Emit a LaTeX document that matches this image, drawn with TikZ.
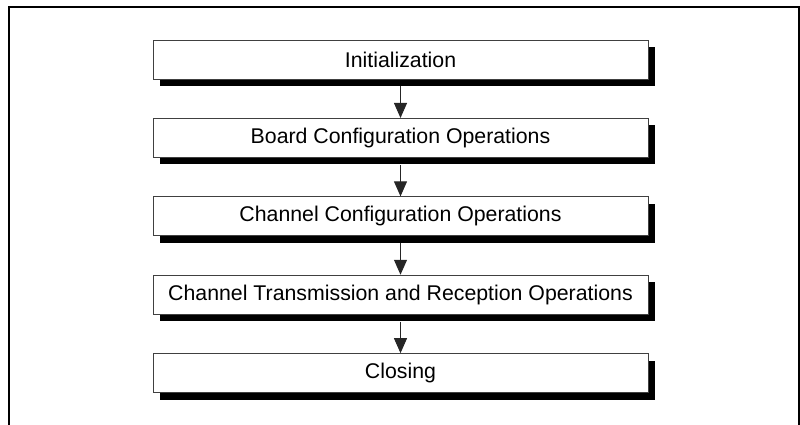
\documentclass[tikz,border=0pt]{standalone}
\usepackage{fontspec}
\setmainfont{Liberation Sans}
\usetikzlibrary{arrows.meta,positioning,shadows}

\begin{document}
\begin{tikzpicture}[x=1pt,y=-1pt,>={Triangle[width=13pt,length=15pt]},
  stage/.style={draw=black!75,line width=0.9pt,fill=white,
    minimum width=495pt,minimum height=39pt,inner sep=0pt,
    font=\fontsize{21.3}{25}\selectfont,
    drop shadow={shadow xshift=7pt,shadow yshift=-7pt,fill=black,opacity=1}},
  flow/.style={->,line width=1pt,black!85},
  node distance=38.5pt]
\useasboundingbox (0,0) rectangle (800,424);
%outer frame
\draw[line width=2pt](9,430)--(9,7)--(799,7)--(799,430);
%%%
\node[stage](init) at (400.5,59.5){Initialization};
\node[stage,below=of init](board){Board Configuration Operations};
\node[stage,below=of board](chan){Channel Configuration Operations};
\node[stage,below=of chan](trans){Channel Transmission and Reception Operations};
\node[stage,below=of trans](close){Closing};
%%%
\draw[flow]([yshift=-7pt]init.south)--(board.north);
\draw[flow]([yshift=-7pt]board.south)--(chan.north);
\draw[flow]([yshift=-7pt]chan.south)--(trans.north);
\draw[flow]([yshift=-7pt]trans.south)--(close.north);
\end{tikzpicture}
\end{document}
